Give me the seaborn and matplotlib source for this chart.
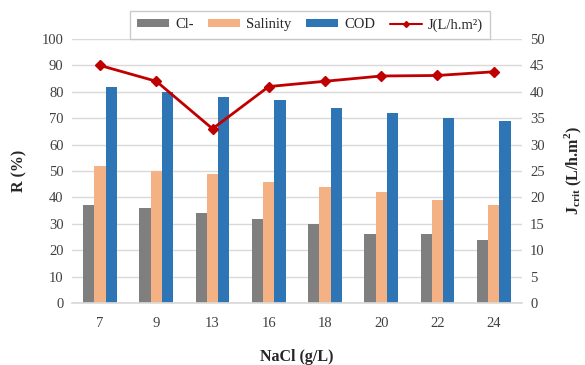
import matplotlib
matplotlib.use("Agg")
import matplotlib.pyplot as plt
import seaborn as sns
import pandas as pd
from matplotlib.lines import Line2D
from matplotlib.patches import Patch

nacl = ["7", "9", "13", "16", "18", "20", "22", "24"]
cl = [37, 36, 34, 32, 30, 26, 26, 24]
salinity = [52, 50, 49, 46, 44, 42, 39, 37]
cod = [82, 80, 78, 77, 74, 72, 70, 69]
jcrit = [45, 42, 33, 41, 42, 43, 43.1, 43.8]

series_names = ["Cl-", "Salinity", "COD"]
colors = ["#7f7f7f", "#f4b183", "#2e75b6"]
line_color = "#c00000"

df = pd.DataFrame({
    "NaCl": nacl * 3,
    "R": cl + salinity + cod,
    "Series": [s for s in series_names for _ in nacl],
})

sns.set_theme(style="white")
plt.rcParams["font.family"] = ["Liberation Serif", "DejaVu Serif"]
plt.rcParams["mathtext.fontset"] = "custom"
plt.rcParams["mathtext.rm"] = "Liberation Serif"
plt.rcParams["mathtext.bf"] = "Liberation Serif:bold"

fig = plt.figure(figsize=(5.85, 3.65), dpi=100)
ax = fig.add_axes([0.123, 0.170, 0.769, 0.723])

sns.barplot(data=df, x="NaCl", y="R", hue="Series", order=nacl,
            hue_order=series_names, palette=colors, width=0.6,
            saturation=1, ax=ax, legend=False, edgecolor="none")

ax.set_ylim(0, 100)
ax.set_yticks(range(0, 101, 10))
ax.yaxis.grid(True, color="#d9d9d9", linewidth=1)
ax.set_axisbelow(True)
for s in ["top", "right", "left"]:
    ax.spines[s].set_visible(False)
ax.spines["bottom"].set_color("#d9d9d9")
ax.tick_params(axis="y", length=0, labelsize=10.5, colors="#404040", pad=6)
ax.tick_params(axis="x", length=0, labelsize=10.5, colors="#404040", pad=10)
ax.set_xlabel("NaCl (g/L)", fontsize=11.5, fontweight="bold", labelpad=14)
ax.set_ylabel("R (%)", fontsize=11.5, fontweight="bold", labelpad=10)

ax2 = ax.twinx()
ax2.plot(range(len(nacl)), jcrit, color=line_color, marker="D",
         markersize=5.5, linewidth=2)
ax2.set_ylim(0, 50)
ax2.set_yticks(range(0, 51, 5))
for s in ["top", "right", "left", "bottom"]:
    ax2.spines[s].set_visible(False)
ax2.tick_params(axis="y", length=0, labelsize=10.5, colors="#404040", pad=6)
ax2.set_ylabel(r"J$_{\mathbf{crit}}$ (L/h.m$^{\mathbf{2}}$)", fontsize=11.5,
               fontweight="bold", labelpad=13)
ax.set_xlim(-0.5, len(nacl) - 0.5)

handles = [Patch(facecolor=c, edgecolor="none") for c in colors]
handles.append(Line2D([0], [0], color=line_color, marker="D", markersize=3,
                      linewidth=1.5))
labels = series_names + ["J(L/h.m²)"]
leg = fig.legend(handles, labels, loc="center", bbox_to_anchor=(0.53, 0.932),
                 ncol=4, frameon=True, fontsize=10.5, fancybox=False,
                 handlelength=2.2, handleheight=0.5, columnspacing=1.0,
                 handletextpad=0.4, borderpad=0.5, borderaxespad=0)
leg.get_frame().set_edgecolor("#bfbfbf")
leg.get_frame().set_linewidth(1)

fig.savefig("out.png", dpi=100)
